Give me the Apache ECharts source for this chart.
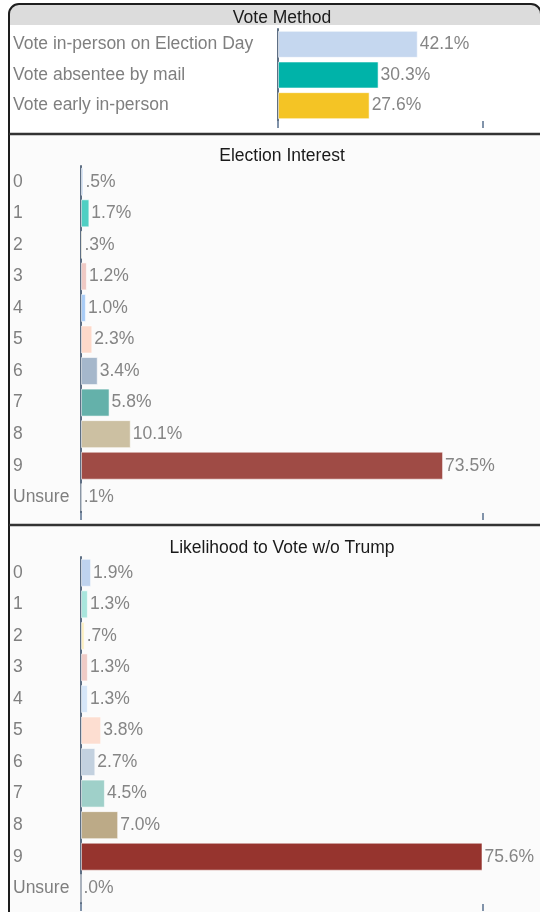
<!DOCTYPE html>
<html><head><meta charset="utf-8">
<script src="https://cdn.jsdelivr.net/npm/echarts@6/dist/echarts.min.js"></script>
<style>html,body{margin:0;padding:0;background:#fff;}#c{width:540px;height:912px;}</style>
</head><body><div id="c"></div>
<script>
// ---- data ----
const titleMethod = 'Vote Method';
const catsMethod = ['Vote in-person on Election Day', 'Vote absentee by mail', 'Vote early in-person'];
const valsMethod = [42.1, 30.3, 27.6];
const colorsMethod = ['#c5d7ef', '#00b3a9', '#f4c425'];

const titleInterest = 'Election Interest';
const catsInterest = ['0', '1', '2', '3', '4', '5', '6', '7', '8', '9', 'Unsure'];
const valsInterest = [0.5, 1.7, 0.3, 1.2, 1.0, 2.3, 3.4, 5.8, 10.1, 73.5, 0.1];
const colorsInterest = ['#c6d9f2', '#4fcfc3', '#fbe6a4', '#efc9c4', '#a9ccf6', '#fdd9ca', '#a5b7cb', '#64b1aa', '#ccc0a2', '#9f4b45', '#c6d9f2'];

const titleLikely = 'Likelihood to Vote w/o Trump';
const catsLikely = ['0', '1', '2', '3', '4', '5', '6', '7', '8', '9', 'Unsure'];
const valsLikely = [1.9, 1.3, 0.7, 1.3, 1.3, 3.8, 2.7, 4.5, 7.0, 75.6, 0.0];
const colorsLikely = ['#bfd3ee', '#a9e6dd', '#fcefc1', '#efcbc6', '#d6e6f8', '#fdded1', '#c3d1df', '#9fd0c9', '#bcaa87', '#96342e', '#bfd3ee'];

// ---- layout ----
const FONT = '"Liberation Sans", Arial, sans-serif';
const FS = 17.5;
const panels = [
  {title: titleMethod, cats: catsMethod, vals: valsMethod, colors: colorsMethod, left: 278, top: 29, height: 92, max: 61.6, titleTop: 4, barW: 27},
  {title: titleInterest, cats: catsInterest, vals: valsInterest, colors: colorsInterest, left: 81, top: 166, height: 347, max: 81.5, titleTop: 142, barW: 28},
  {title: titleLikely, cats: catsLikely, vals: valsLikely, colors: colorsLikely, left: 81, top: 557, height: 347, max: 75.6, titleTop: 534, barW: 28}
];

function fmt(v) {
  let s = v.toFixed(1);
  if (s.startsWith('0')) s = s.slice(1);
  return s + '%';
}

const grid = [], xAxis = [], yAxis = [], series = [], title = [];
panels.forEach((p, i) => {
  grid.push({left: p.left, top: p.top, height: p.height, right: 57.5, containLabel: false});
  xAxis.push({
    type: 'value', gridIndex: i, min: 0, max: p.max, interval: p.max,
    axisLine: {show: false}, splitLine: {show: false}, axisLabel: {show: false},
    axisTick: {show: true, length: 7, lineStyle: {color: '#8193aa', width: 2}}
  });
  yAxis.push({
    type: 'category', gridIndex: i, data: p.cats, inverse: true,
    axisLine: {show: true, lineStyle: {color: '#5e6f84', width: 2}},
    axisTick: {show: false},
    axisLabel: {align: 'left', margin: p.left - 13, color: '#7f7f7f', fontSize: FS, fontFamily: FONT}
  });
  series.push({
    type: 'bar', xAxisIndex: i, yAxisIndex: i, barWidth: p.barW,
    data: p.vals.map((v, k) => ({value: v, itemStyle: {color: p.colors[k]}})),
    itemStyle: {borderColor: 'rgba(255,255,255,0.55)', borderWidth: 1},
    label: {show: true, position: 'right', distance: 2, color: '#858585', fontSize: FS, fontFamily: FONT,
      formatter: (q) => fmt(q.value)},
    silent: true
  });
  title.push({text: p.title, left: 277, top: p.titleTop, textAlign: 'center',
    textStyle: {color: '#1a1a1a', fontSize: FS, fontWeight: 'normal', fontFamily: FONT}});
});

const graphic = [
  // panel backgrounds
  {type: 'rect', z: -10, shape: {x: 9, y: 134, width: 540, height: 391}, style: {fill: '#fbfbfb'}},
  {type: 'rect', z: -10, shape: {x: 9, y: 525, width: 540, height: 400}, style: {fill: '#fbfbfb'}},
  // title bar
  {type: 'rect', z: -9, shape: {x: 9, y: 4, width: 532, height: 21, r: [9, 9, 0, 0]}, style: {fill: '#dcdcdc'}},
  // outer border with rounded top corners
  {type: 'rect', z: 100, shape: {x: 9, y: 4, width: 532, height: 940, r: [10, 10, 0, 0]}, style: {fill: 'none', stroke: '#1e1e1e', lineWidth: 2}},
  // separators
  {type: 'line', z: 100, shape: {x1: 9, y1: 134, x2: 540, y2: 134}, style: {stroke: '#333', lineWidth: 2.5}},
  {type: 'line', z: 100, shape: {x1: 9, y1: 525, x2: 540, y2: 525}, style: {stroke: '#333', lineWidth: 2.5}}
];

const chart = echarts.init(document.getElementById('c'), null, {renderer: 'canvas'});
chart.setOption({animation: false, backgroundColor: '#fff', title, grid, xAxis, yAxis, series, graphic});
</script></body></html>
